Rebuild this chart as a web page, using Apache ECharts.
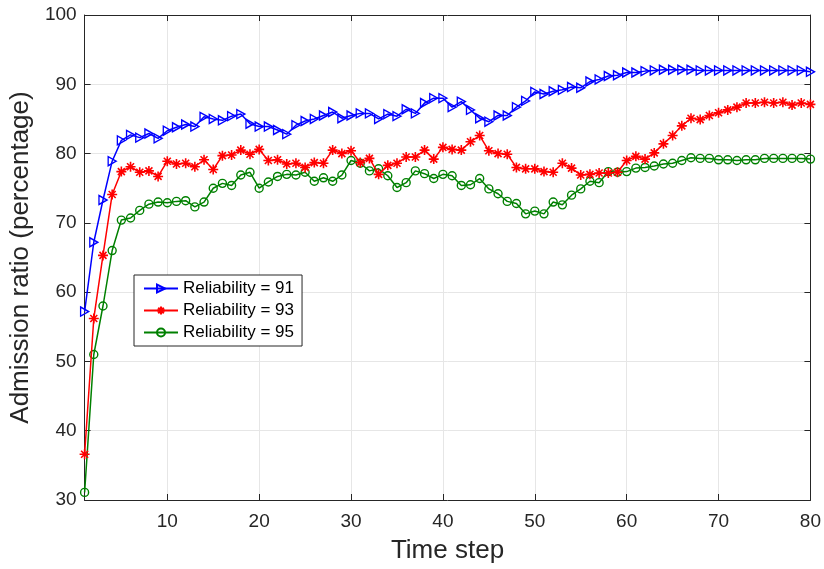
<!DOCTYPE html>
<html>
<head>
<meta charset="utf-8">
<script src="https://cdn.jsdelivr.net/npm/echarts@6/dist/echarts.min.js"></script>
<style>
html,body{margin:0;padding:0;background:#fff;}
#chart{width:824px;height:569px;}
</style>
</head>
<body>
<div id="chart"></div>
<script>
// Time steps 1..80
const timeSteps = Array.from({length: 80}, (_, i) => String(i + 1));
const xTickLabels = ['10','20','30','40','50','60','70','80'];
const yTicks = [30, 40, 50, 60, 70, 80, 90, 100];

const rel91 = [57.2,67.2,73.3,78.9,81.9,82.7,82.3,82.9,82.2,83.3,
  83.8,84.2,83.9,85.3,85.0,84.8,85.4,85.7,84.3,83.9,
  83.9,83.4,82.8,84.1,84.7,85.0,85.5,86.0,85.1,85.5,
  85.8,85.8,85.0,85.7,85.4,86.4,85.8,87.3,88.0,88.0,
  86.7,87.5,86.3,85.1,84.6,85.5,85.5,86.7,87.6,88.9,
  88.6,89.0,89.2,89.6,89.5,90.4,90.7,91.2,91.3,91.7,
  91.7,91.9,92.0,92.1,92.1,92.1,92.1,92.0,92.0,92.0,
  92.0,92.0,92.0,92.0,92.0,92.0,92.0,92.0,92.0,91.8];

const rel93 = [36.6,56.2,65.3,74.1,77.4,78.1,77.3,77.5,76.7,78.9,
  78.5,78.6,78.1,79.1,77.7,79.7,79.8,80.5,79.9,80.6,
  79.0,79.1,78.5,78.6,78.0,78.7,78.6,80.5,80.0,80.4,
  78.7,79.3,77.0,78.3,78.6,79.5,79.5,80.5,79.2,80.9,
  80.6,80.5,81.7,82.6,80.4,80.0,79.9,78.0,77.8,77.8,
  77.4,77.3,78.6,77.9,76.9,77.0,77.2,77.2,77.3,79.0,
  79.6,79.2,80.1,81.4,82.6,84.0,85.1,84.9,85.5,85.9,
  86.3,86.7,87.3,87.3,87.4,87.3,87.4,87.0,87.3,87.1];

const rel95 = [31.1,51.0,58.0,66.0,70.4,70.7,71.8,72.7,73.0,72.9,
  73.1,73.2,72.3,73.0,75.0,75.7,75.4,76.9,77.3,75.0,
  75.9,76.7,77.0,76.9,77.3,76.0,76.5,76.0,76.9,79.0,
  78.6,77.5,77.8,76.8,75.1,75.8,77.5,77.1,76.4,77.0,
  76.8,75.4,75.5,76.4,74.9,74.2,73.1,72.8,71.3,71.7,
  71.3,73.0,72.6,74.0,74.9,76.0,75.8,77.4,77.3,77.4,
  77.9,78.0,78.2,78.5,78.6,79.0,79.4,79.3,79.3,79.1,
  79.1,79.0,79.1,79.1,79.3,79.3,79.3,79.3,79.3,79.2];

const seriesNames = ['Reliability = 91', 'Reliability = 93', 'Reliability = 95'];

const FONT = '"Liberation Sans", Arial, Helvetica, sans-serif';
const AX = '#262626';
const isTick = (idx, val) => xTickLabels.indexOf(String(val)) >= 0;

const chart = echarts.init(document.getElementById('chart'), null, {renderer: 'canvas'});
chart.setOption({
  animation: false,
  backgroundColor: '#fff',
  grid: {left: 80, right: 12, top: 15, bottom: 66, containLabel: false},
  legend: {
    orient: 'vertical',
    left: 134, top: 275,
    backgroundColor: '#fff',
    borderColor: AX, borderWidth: 1,
    padding: [5, 8, 5, 9],
    itemGap: 5,
    itemWidth: 34, itemHeight: 10,
    textStyle: {fontFamily: FONT, fontSize: 17, color: '#000'},
    data: seriesNames
  },
  xAxis: [{
    type: 'category', data: timeSteps, boundaryGap: false,
    name: 'Time step', nameLocation: 'middle', nameGap: 38,
    nameTextStyle: {fontFamily: FONT, fontSize: 26, color: AX},
    axisLine: {show: true, lineStyle: {color: AX, width: 1}},
    axisTick: {show: true, inside: true, length: 6, interval: isTick, lineStyle: {color: AX}},
    axisLabel: {interval: isTick, fontFamily: FONT, fontSize: 19, color: AX, margin: 12},
    splitLine: {show: true, interval: isTick, lineStyle: {color: '#e6e6e6', width: 1}}
  }, {
    type: 'category', data: timeSteps, boundaryGap: false, position: 'top',
    axisLine: {show: true, onZero: false, lineStyle: {color: AX, width: 1}},
    axisTick: {show: true, inside: true, length: 6, interval: isTick, lineStyle: {color: AX}},
    axisLabel: {show: false},
    splitLine: {show: false}
  }],
  yAxis: [{
    type: 'value', min: 30, max: 100, interval: 10,
    name: 'Admission ratio (percentage)', nameLocation: 'middle', nameGap: 35,
    nameTextStyle: {fontFamily: FONT, fontSize: 26, color: AX},
    axisLine: {show: true, lineStyle: {color: AX, width: 1}},
    axisTick: {show: true, inside: true, length: 6, lineStyle: {color: AX}},
    axisLabel: {fontFamily: FONT, fontSize: 19, color: AX, margin: 8},
    splitLine: {show: true, lineStyle: {color: '#e6e6e6', width: 1}}
  }, {
    type: 'value', min: 30, max: 100, interval: 10, position: 'right',
    axisLine: {show: true, onZero: false, lineStyle: {color: AX, width: 1}},
    axisTick: {show: true, inside: true, length: 6, lineStyle: {color: AX}},
    axisLabel: {show: false},
    splitLine: {show: false}
  }],
  series: [{
    name: seriesNames[0], type: 'line', data: rel91,
    symbol: 'triangle', symbolRotate: -90, symbolSize: [9, 8], showAllSymbol: true,
    lineStyle: {color: '#0000ff', width: 1.5},
    itemStyle: {color: 'none', borderColor: '#0000ff', borderWidth: 1.4},
    emphasis: {disabled: true}, z: 4
  }, {
    name: seriesNames[1], type: 'line', data: rel93,
    symbol: 'path://M5,0L5,10M0,5L10,5M1.5,1.5L8.5,8.5M1.5,8.5L8.5,1.5', symbolSize: 10, showAllSymbol: true,
    lineStyle: {color: '#ff0000', width: 1.5},
    itemStyle: {color: 'none', borderColor: '#ff0000', borderWidth: 1.6},
    emphasis: {disabled: true}, z: 3
  }, {
    name: seriesNames[2], type: 'line', data: rel95,
    symbol: 'circle', symbolSize: 8, showAllSymbol: true,
    lineStyle: {color: '#008000', width: 1.5},
    itemStyle: {color: 'none', borderColor: '#008000', borderWidth: 1.4},
    emphasis: {disabled: true}, z: 2
  }]
});
</script>
</body>
</html>
